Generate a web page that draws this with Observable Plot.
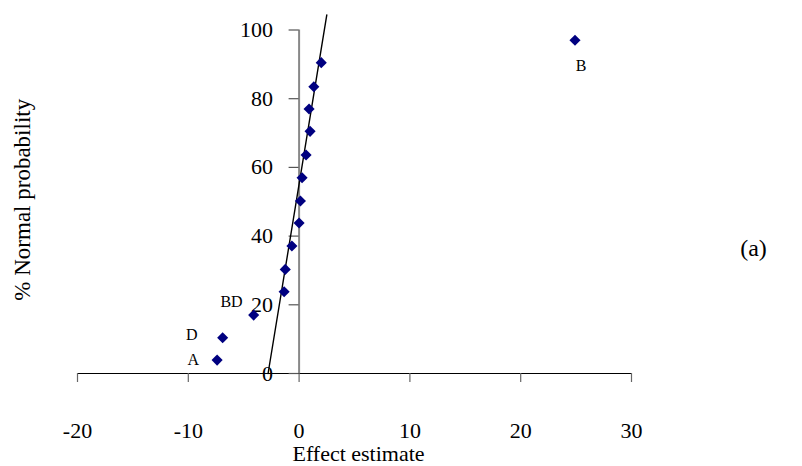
<!DOCTYPE html>
<html>
<head>
<meta charset="utf-8">
<script src="https://cdn.jsdelivr.net/npm/d3@7"></script>
<script src="https://cdn.jsdelivr.net/npm/@observablehq/plot@0.6"></script>
<style>
html, body { margin: 0; padding: 0; background: #fff; }
#chart { width: 802px; height: 466px; }
</style>
</head>
<body>
<div id="chart"></div>
<script>
// Effect estimates (x) and normal probabilities in % (y)
const effects       = [-7.4, -6.9, -4.1, -1.35, -1.25, -0.65, 0.0, 0.12, 0.27, 0.63, 0.99, 0.9, 1.33, 2.0, 24.9];
const probabilities = [3.9, 10.4, 17.0, 23.8, 30.3, 37.1, 43.8, 50.2, 57.0, 63.6, 70.5, 77.0, 83.5, 90.5, 97.0];
const pointLabels   = ["A", "D", "BD", "", "", "", "", "", "", "", "", "", "", "", "B"];

// Fitted normal line (two end points)
const fitEffect = [-2.8, 2.5];
const fitProb   = [0, 104.4];

const xTicks = [-20, -10, 0, 10, 20, 30];
const yTicks = [0, 20, 40, 60, 80, 100];

const xTitle = "Effect estimate";
const yTitle = "% Normal probability";
const panelLabel = "(a)";

const points = effects.map((e, i) => ({effect: e, prob: probabilities[i], label: pointLabels[i]}));
const fit = fitEffect.map((e, i) => ({effect: e, prob: fitProb[i]}));
const lab = (name) => points.filter(d => d.label === name);

const serif = '"Liberation Serif", "Times New Roman", serif';

const chart = Plot.plot({
  width: 802,
  height: 466,
  marginLeft: 77,
  marginRight: 171,
  marginTop: 29.5,
  marginBottom: 93,
  x: {domain: [-20, 30], axis: null},
  y: {domain: [0, 100], axis: null},
  style: {fontFamily: serif, background: "transparent", color: "black"},
  marks: [
    // x axis line and ticks
    Plot.ruleY([0], {x1: -20, x2: 30, stroke: "black", strokeWidth: 1.2}),
    Plot.ruleX(xTicks, {y1: 0, y2: 0, insetBottom: -9, stroke: "#666", strokeWidth: 1.2}),
    Plot.text(xTicks, {x: d => d, y: 0, text: d => String(d), dy: 57.5, fontSize: 22, fill: "black"}),
    // y axis at x = 0
    Plot.ruleX([0], {y1: 0, y2: 100, stroke: "#888", strokeWidth: 2}),
    Plot.ruleY(yTicks, {x1: 0, x2: 0, insetLeft: -10, stroke: "#555", strokeWidth: 1.2}),
    Plot.text(yTicks, {x: 0, y: d => d, text: d => String(d), textAnchor: "end", dx: -26, fontSize: 22, fill: "black"}),
    // fitted line
    Plot.line(fit, {x: "effect", y: "prob", stroke: "black", strokeWidth: 1.4}),
    // points
    Plot.dot(points, {x: "effect", y: "prob", symbol: "diamond2", r: 5, fill: "#000080", stroke: "none"}),
    // point labels
    Plot.text(lab("A"),  {x: "effect", y: "prob", text: "label", textAnchor: "end", dx: -18, dy: 0, fontSize: 16}),
    Plot.text(lab("D"),  {x: "effect", y: "prob", text: "label", textAnchor: "end", dx: -25, dy: -3, fontSize: 16}),
    Plot.text(lab("BD"), {x: "effect", y: "prob", text: "label", textAnchor: "end", dx: -11, dy: -13, fontSize: 16}),
    Plot.text(lab("B"),  {x: "effect", y: "prob", text: "label", textAnchor: "middle", dx: 6, dy: 25.5, fontSize: 16}),
    // titles
    Plot.text([xTitle], {frameAnchor: "bottom", text: d => d, textAnchor: "middle", lineAnchor: "middle", dx: 4, dy: 80.5, fontSize: 22}),
    Plot.text([yTitle], {frameAnchor: "left", text: d => d, textAnchor: "middle", lineAnchor: "middle", rotate: -90, dx: -55, dy: -2, fontSize: 23}),
    Plot.text([panelLabel], {frameAnchor: "right", text: d => d, textAnchor: "middle", lineAnchor: "middle", dx: 122, dy: 47, fontSize: 24})
  ]
});

document.getElementById("chart").append(chart);
</script>
</body>
</html>
